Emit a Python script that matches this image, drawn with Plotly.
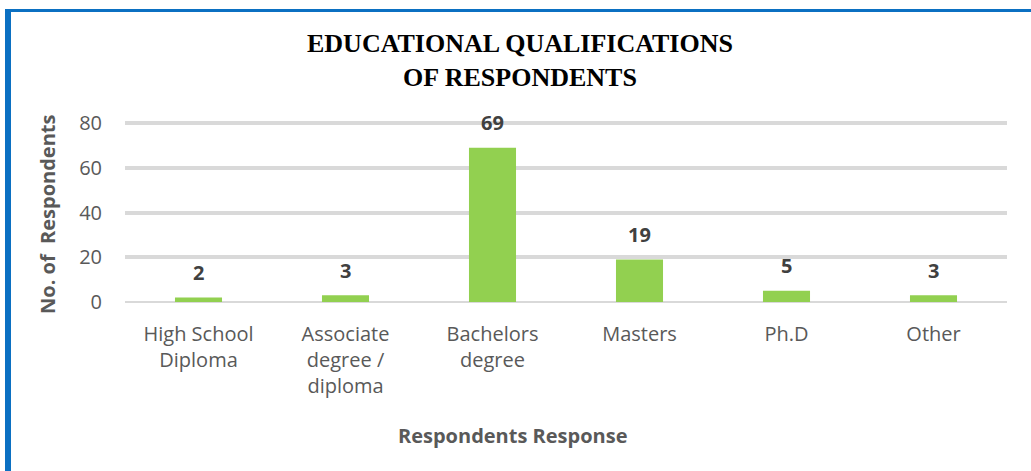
import plotly.graph_objects as go

# Survey data
categories = ["High School<br>Diploma", "Associate<br>degree /<br>diploma", "Bachelors<br>degree",
              "Masters", "Ph.D", "Other"]
respondents = [2, 3, 69, 19, 5, 3]
y_ticks = [0, 20, 40, 60, 80]

W, H = 1031, 471
ML, MR, MT, MB = 125, 24, 122, 169
PW, PH = W - ML - MR, H - MT - MB


def px_x(px):
    return (px - ML) / PW


def px_y(py):
    return 1 - (py - MT) / PH


SANS = "Open Sans, Lato, sans-serif"
TICK_FONT = dict(family=SANS, size=20, color="#595959")

fig = go.Figure(
    go.Bar(
        x=categories,
        y=respondents,
        marker=dict(color="#92d050", line=dict(width=0)),
        width=0.32,
        hoverinfo="skip",
    )
)

# value labels above each bar
for cat, val in zip(categories, respondents):
    fig.add_annotation(
        x=cat, y=val, xref="x", yref="y",
        text=str(val), showarrow=False,
        yanchor="middle", yshift=25,
        font=dict(family=SANS, size=20, color="#404040", weight="bold"),
    )

# chart title
fig.add_annotation(
    x=px_x(520), y=px_y(61), xref="paper", yref="paper",
    text="<b>EDUCATIONAL QUALIFICATIONS<br>OF RESPONDENTS</b>",
    showarrow=False, xanchor="center", yanchor="middle",
    font=dict(family="Liberation Serif, Times New Roman, serif", size=26, color="#000000"),
)

# axis titles
fig.add_annotation(
    x=px_x(512), y=px_y(435), xref="paper", yref="paper",
    text="<b>Respondents Response</b>", showarrow=False,
    xanchor="center", yanchor="middle",
    font=dict(family=SANS, size=20, color="#595959"),
)
fig.add_annotation(
    x=px_x(47), y=px_y(214), xref="paper", yref="paper",
    text="<b>No. of  Respondents</b>", showarrow=False, textangle=-90,
    xanchor="center", yanchor="middle",
    font=dict(family=SANS, size=20, color="#595959"),
)

# blue frame on the left and top edges
fig.add_shape(type="rect", xref="paper", yref="paper",
              x0=px_x(5), x1=px_x(11), y0=px_y(H + 5), y1=px_y(9),
              fillcolor="#0b70c2", line=dict(width=0), layer="above")
fig.add_shape(type="rect", xref="paper", yref="paper",
              x0=px_x(5), x1=px_x(W + 5), y0=px_y(12), y1=px_y(9),
              fillcolor="#0b70c2", line=dict(width=0), layer="above")

fig.update_layout(
    width=W, height=H,
    margin=dict(l=ML, r=MR, t=MT, b=MB, pad=0),
    paper_bgcolor="white", plot_bgcolor="white",
    showlegend=False,
    bargap=0.68,
    xaxis=dict(
        tickfont=TICK_FONT, showgrid=False, showline=False, ticks="",
        ticklabelstandoff=18, fixedrange=True,
    ),
    yaxis=dict(
        range=[0, 80.5], tickvals=y_ticks, tickfont=TICK_FONT,
        showgrid=True, gridcolor="#d9d9d9", gridwidth=4,
        zeroline=True, zerolinecolor="#d9d9d9", zerolinewidth=2,
        showline=False, ticks="", ticklabelstandoff=22, fixedrange=True,
    ),
)

fig.write_html("out.html")
